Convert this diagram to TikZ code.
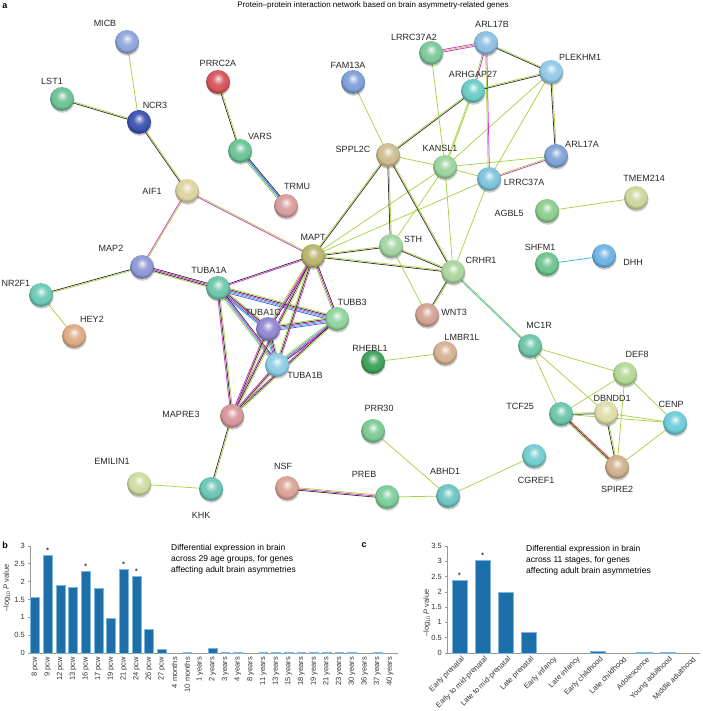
\documentclass[tikz,border=0pt]{standalone}
\usepackage{fontspec}
\setmainfont{Liberation Sans}
\usetikzlibrary{calc}
\pgfdeclarelayer{edgel}\pgfdeclarelayer{shadl}
\pgfsetlayers{edgel,shadl,main}
% edge colours
\definecolor{egreen}{HTML}{A8D246}
\definecolor{eblack}{HTML}{333333}
\definecolor{emag}{HTML}{D633D6}
\definecolor{ecyan}{HTML}{33B5E5}
\definecolor{eblue}{HTML}{4A5FD4}
\definecolor{ered}{HTML}{E8383D}
\definecolor{barc}{HTML}{1D6FA9}
\definecolor{barl}{HTML}{7FB5DC}
\definecolor{axc}{HTML}{999999}
% node colours
\definecolor{cMICB}{HTML}{8EA6DA}
\definecolor{cPRRC2A}{HTML}{D5555B}
\definecolor{cLST1}{HTML}{6DC194}
\definecolor{cNCR3}{HTML}{3C52B0}
\definecolor{cVARS}{HTML}{6CC396}
\definecolor{cAIF1}{HTML}{DCD3A2}
\definecolor{cTRMU}{HTML}{D89C9C}
\definecolor{cMAPT}{HTML}{B7B46A}
\definecolor{cFAM13A}{HTML}{7C9FD6}
\definecolor{cARL17B}{HTML}{8DBEE2}
\definecolor{cLRRC37A2}{HTML}{7BC897}
\definecolor{cPLEKHM1}{HTML}{93C8E8}
\definecolor{cARHGAP27}{HTML}{6CCBC5}
\definecolor{cSPPL2C}{HTML}{CDBC90}
\definecolor{cKANSL1}{HTML}{9BD39B}
\definecolor{cARL17A}{HTML}{7FA2D6}
\definecolor{cLRRC37A}{HTML}{7EC3DA}
\definecolor{cTMEM214}{HTML}{CDD69C}
\definecolor{cAGBL5}{HTML}{8BCD8C}
\definecolor{cSTH}{HTML}{A3D4A1}
\definecolor{cCRHR1}{HTML}{AAD49C}
\definecolor{cSHFM1}{HTML}{6CC48E}
\definecolor{cDHH}{HTML}{6EB2E2}
\definecolor{cWNT3}{HTML}{D2A294}
\definecolor{cMAP2}{HTML}{8F98D6}
\definecolor{cTUBA1A}{HTML}{6CC6AA}
\definecolor{cNR2F1}{HTML}{6DC9B6}
\definecolor{cTUBB3}{HTML}{8DD49C}
\definecolor{cTUBA1C}{HTML}{8E87CF}
\definecolor{cTUBA1B}{HTML}{8CCDE3}
\definecolor{cHEY2}{HTML}{DDAB82}
\definecolor{cRHEBL1}{HTML}{3DA157}
\definecolor{cLMBR1L}{HTML}{D4B292}
\definecolor{cMC1R}{HTML}{6DC5A6}
\definecolor{cMAPRE3}{HTML}{D6969C}
\definecolor{cPRR30}{HTML}{7CC992}
\definecolor{cDEF8}{HTML}{B3D896}
\definecolor{cTCF25}{HTML}{6CC5AA}
\definecolor{cDBNDD1}{HTML}{DEDDA8}
\definecolor{cCENP}{HTML}{6ECBD9}
\definecolor{cCGREF1}{HTML}{72CDCD}
\definecolor{cSPIRE2}{HTML}{CEB18E}
\definecolor{cEMILIN1}{HTML}{CCDCA0}
\definecolor{cKHK}{HTML}{6CC5B6}
\definecolor{cNSF}{HTML}{D9A396}
\definecolor{cPREB}{HTML}{7CCD9A}
\definecolor{cABHD1}{HTML}{6CC5C2}
\colorlet{ballc}{white}
\pgfdeclareradialshading[ballc]{sball}{\pgfqpoint{0bp}{8bp}}{%
 color(0bp)=(ballc!8!white); color(5bp)=(ballc!50!white); color(12bp)=(ballc!92!white);
 color(21bp)=(ballc); color(25bp)=(ballc!78!black); color(50bp)=(ballc!78!black)}
\newcommand\sedge[3]{%
  \gdef\ecnt{0}%
  \foreach \cc in {#3}{\pgfmathtruncatemacro\ectmp{\ecnt+1}\global\let\ecnt\ectmp}%
  \foreach \cc [count=\ci] in {#3}{%
    \pgfmathsetmacro\eoff{(\ci-(\ecnt+1)/2)*1.2}%
    \draw[\cc, edgeline] ($(#1.center)!\eoff pt!90:(#2.center)$) -- ($(#2.center)!\eoff pt!-90:(#1.center)$);%
  }%
}
\begin{document}
\begin{tikzpicture}[x=1pt,y=-1pt,
  pn/.style={circle, minimum size=24pt, inner sep=0pt, /utils/exec={\colorlet{ballc}{#1}}, shade, shading=sball},
  lbl/.style={font=\fontsize{9}{10}\selectfont, text=black!85, inner sep=0pt},
  edgeline/.style={line width=0.75pt},
  panel/.style={font=\fontsize{9}{10}\selectfont\bfseries, inner sep=0pt},
  ttl/.style={font=\fontsize{8}{9}\selectfont, inner sep=0pt},
  anno/.style={font=\fontsize{8.5}{11}\selectfont, inner sep=0pt, align=left, anchor=north west},
  tick/.style={font=\fontsize{7.5}{8}\selectfont, text=black!80, inner sep=0pt},
  axis/.style={draw=axc, line width=0.6pt},
  bar/.style={fill=barc, draw=barl, line width=0.5pt},
  starl/.style={font=\fontsize{8}{9}\selectfont, inner sep=0pt, anchor=south}]
\useasboundingbox (0,0) rectangle (702,711);

% ---------------- panel a ----------------
\node[panel] (pa) at (5,6) {a};
\node[ttl] (title) at (373,5) {Protein–protein interaction network based on brain asymmetry-related genes};

% nodes
\node[pn=cMICB] (MICB) at (127,42) {};
\node[pn=cPRRC2A] (PRRC2A) at (218,82) {};
\node[pn=cLST1] (LST1) at (62,99) {};
\node[pn=cNCR3] (NCR3) at (139,122) {};
\node[pn=cVARS] (VARS) at (240,151) {};
\node[pn=cAIF1] (AIF1) at (187,191) {};
\node[pn=cTRMU] (TRMU) at (286,206) {};
\node[pn=cMAPT] (MAPT) at (313,256) {};
\node[pn=cFAM13A] (FAM13A) at (353,82) {};
\node[pn=cARL17B] (ARL17B) at (486,43) {};
\node[pn=cLRRC37A2] (LRRC37A2) at (431,53) {};
\node[pn=cPLEKHM1] (PLEKHM1) at (551,72) {};
\node[pn=cARHGAP27] (ARHGAP27) at (473,91) {};
\node[pn=cSPPL2C] (SPPL2C) at (388,155) {};
\node[pn=cKANSL1] (KANSL1) at (445,167) {};
\node[pn=cARL17A] (ARL17A) at (556,156) {};
\node[pn=cLRRC37A] (LRRC37A) at (489,179) {};
\node[pn=cTMEM214] (TMEM214) at (636,198) {};
\node[pn=cAGBL5] (AGBL5) at (547,211) {};
\node[pn=cSTH] (STH) at (391,246) {};
\node[pn=cCRHR1] (CRHR1) at (453,272) {};
\node[pn=cSHFM1] (SHFM1) at (547,264) {};
\node[pn=cDHH] (DHH) at (604,256) {};
\node[pn=cWNT3] (WNT3) at (427,315) {};
\node[pn=cMAP2] (MAP2) at (142,267) {};
\node[pn=cTUBA1A] (TUBA1A) at (218,288) {};
\node[pn=cNR2F1] (NR2F1) at (41,295) {};
\node[pn=cTUBB3] (TUBB3) at (337,319) {};
\node[pn=cTUBA1C] (TUBA1C) at (268,329) {};
\node[pn=cTUBA1B] (TUBA1B) at (277,365) {};
\node[pn=cHEY2] (HEY2) at (74,336) {};
\node[pn=cRHEBL1] (RHEBL1) at (373,362) {};
\node[pn=cLMBR1L] (LMBR1L) at (445,353) {};
\node[pn=cMC1R] (MC1R) at (530,346) {};
\node[pn=cMAPRE3] (MAPRE3) at (232,416) {};
\node[pn=cPRR30] (PRR30) at (373,431) {};
\node[pn=cDEF8] (DEF8) at (625,374) {};
\node[pn=cTCF25] (TCF25) at (561,414) {};
\node[pn=cDBNDD1] (DBNDD1) at (606,413) {};
\node[pn=cCENP] (CENP) at (675,423) {};
\node[pn=cCGREF1] (CGREF1) at (534,456) {};
\node[pn=cSPIRE2] (SPIRE2) at (617,467) {};
\node[pn=cEMILIN1] (EMILIN1) at (139,484) {};
\node[pn=cKHK] (KHK) at (211,489) {};
\node[pn=cNSF] (NSF) at (287,488) {};
\node[pn=cPREB] (PREB) at (387,497) {};
\node[pn=cABHD1] (ABHD1) at (448,496) {};

% labels
\node[lbl] (lMICB) at (105,23) {MICB};
\node[lbl] (lPRRC2A) at (218,63) {PRRC2A};
\node[lbl] (lLST1) at (52,81) {LST1};
\node[lbl] (lNCR3) at (155,105) {NCR3};
\node[lbl] (lVARS) at (260,136) {VARS};
\node[lbl] (lAIF1) at (152,191) {AIF1};
\node[lbl] (lTRMU) at (297,186) {TRMU};
\node[lbl] (lMAPT) at (313,237) {MAPT};
\node[lbl] (lFAM13A) at (348,65) {FAM13A};
\node[lbl] (lARL17B) at (492,24) {ARL17B};
\node[lbl] (lLRRC37A2) at (414,37) {LRRC37A2};
\node[lbl] (lPLEKHM1) at (580,57) {PLEKHM1};
\node[lbl] (lARHGAP27) at (473,74) {ARHGAP27};
\node[lbl] (lSPPL2C) at (353,149) {SPPL2C};
\node[lbl] (lKANSL1) at (440,148) {KANSL1};
\node[lbl] (lARL17A) at (582,144) {ARL17A};
\node[lbl] (lLRRC37A) at (524,182) {LRRC37A};
\node[lbl] (lTMEM214) at (644,178) {TMEM214};
\node[lbl] (lAGBL5) at (509,213) {AGBL5};
\node[lbl] (lSTH) at (413,239) {STH};
\node[lbl] (lCRHR1) at (481,260) {CRHR1};
\node[lbl] (lSHFM1) at (540,247) {SHFM1};
\node[lbl] (lDHH) at (633,262) {DHH};
\node[lbl] (lWNT3) at (454,312) {WNT3};
\node[lbl] (lMAP2) at (111,248) {MAP2};
\node[lbl] (lTUBA1A) at (209,270) {TUBA1A};
\node[lbl] (lNR2F1) at (16,283) {NR2F1};
\node[lbl] (lHEY2) at (92,319) {HEY2};
\node[lbl] (lTUBB3) at (352,302) {TUBB3};
\node[lbl] (lTUBA1C) at (263,312) {TUBA1C};
\node[lbl] (lTUBA1B) at (305,375) {TUBA1B};
\node[lbl] (lRHEBL1) at (370,348) {RHEBL1};
\node[lbl] (lLMBR1L) at (462,337) {LMBR1L};
\node[lbl] (lMC1R) at (539,325) {MC1R};
\node[lbl] (lMAPRE3) at (181,414) {MAPRE3};
\node[lbl] (lPRR30) at (379,408) {PRR30};
\node[lbl] (lDEF8) at (637,354) {DEF8};
\node[lbl] (lTCF25) at (520,406) {TCF25};
\node[lbl] (lDBNDD1) at (612,398) {DBNDD1};
\node[lbl] (lCENP) at (671,404) {CENP};
\node[lbl] (lCGREF1) at (536,480) {CGREF1};
\node[lbl] (lSPIRE2) at (617,489) {SPIRE2};
\node[lbl] (lEMILIN1) at (112,461) {EMILIN1};
\node[lbl] (lKHK) at (201,515) {KHK};
\node[lbl] (lNSF) at (283,466) {NSF};
\node[lbl] (lPREB) at (364,474) {PREB};
\node[lbl] (lABHD1) at (445,471) {ABHD1};

% shadows
\begin{pgfonlayer}{shadl}
\foreach \n in {MICB,PRRC2A,LST1,NCR3,VARS,AIF1,TRMU,MAPT,FAM13A,ARL17B,LRRC37A2,PLEKHM1,ARHGAP27,SPPL2C,KANSL1,ARL17A,LRRC37A,TMEM214,AGBL5,STH,CRHR1,SHFM1,DHH,WNT3,MAP2,TUBA1A,NR2F1,TUBB3,TUBA1C,TUBA1B,HEY2,RHEBL1,LMBR1L,MC1R,MAPRE3,PRR30,DEF8,TCF25,DBNDD1,CENP,CGREF1,SPIRE2,EMILIN1,KHK,NSF,PREB,ABHD1}
  \fill[black, opacity=0.2] ([xshift=0.6pt,yshift=-1.8pt]\n.center) circle[radius=12pt];
\end{pgfonlayer}

% edges
\begin{pgfonlayer}{edgel}
\sedge{MICB}{NCR3}{egreen}
\sedge{LST1}{NCR3}{eblack,egreen}
\sedge{NCR3}{AIF1}{eblack,egreen}
\sedge{PRRC2A}{VARS}{eblack,egreen}
\sedge{VARS}{TRMU}{egreen,ecyan,eblue,eblack}
\sedge{AIF1}{MAP2}{emag,egreen}
\sedge{AIF1}{MAPT}{emag,egreen}
\sedge{MAP2}{NR2F1}{eblack,egreen}
\sedge{NR2F1}{HEY2}{egreen}
\sedge{MAP2}{TUBA1A}{egreen,eblack,emag,eblack}
\sedge{MAPT}{TUBA1A}{eblack,emag}
\sedge{TUBA1A}{TUBB3}{eblue,ecyan,emag,eblack,egreen}
\sedge{TUBA1A}{TUBA1C}{ecyan,eblue,emag,eblack,egreen}
\sedge{TUBA1A}{TUBA1B}{egreen,ecyan,emag,eblack}
\sedge{TUBA1A}{MAPRE3}{emag,eblack,egreen}
\sedge{TUBA1C}{TUBB3}{eblue,ecyan,emag,eblack,egreen}
\sedge{TUBA1C}{TUBA1B}{ecyan,eblue,emag,eblack,egreen}
\sedge{TUBA1C}{MAPT}{eblack,emag,egreen}
\sedge{TUBA1C}{MAPRE3}{emag,eblack,egreen}
\sedge{TUBB3}{TUBA1B}{egreen,ecyan,emag,eblack}
\sedge{TUBB3}{MAPT}{eblack,emag,egreen}
\sedge{TUBB3}{MAPRE3}{emag,eblack,egreen}
\sedge{TUBA1B}{MAPT}{emag,eblack,egreen}
\sedge{TUBA1B}{MAPRE3}{emag,eblack,egreen}
\sedge{MAPT}{MAPRE3}{emag,eblack,egreen}
\sedge{MAPRE3}{KHK}{eblack,egreen}
\sedge{EMILIN1}{KHK}{egreen}
\sedge{NSF}{PREB}{eblack,emag,egreen}
\sedge{PREB}{ABHD1}{egreen}
\sedge{PRR30}{ABHD1}{egreen}
\sedge{ABHD1}{CGREF1}{egreen}
\sedge{RHEBL1}{LMBR1L}{egreen}
\sedge{SHFM1}{DHH}{ecyan}
\sedge{AGBL5}{TMEM214}{egreen}
\sedge{MAPT}{SPPL2C}{eblack,egreen}
\sedge{MAPT}{KANSL1}{egreen}
\sedge{MAPT}{LRRC37A}{egreen}
\sedge{MAPT}{STH}{eblack,egreen}
\sedge{MAPT}{CRHR1}{eblack,egreen}
\sedge{SPPL2C}{FAM13A}{egreen}
\sedge{SPPL2C}{ARHGAP27}{eblack,egreen}
\sedge{SPPL2C}{KANSL1}{egreen}
\sedge{SPPL2C}{STH}{eblack,egreen}
\sedge{SPPL2C}{CRHR1}{eblack,egreen}
\sedge{STH}{CRHR1}{eblack,egreen}
\sedge{STH}{WNT3}{egreen}
\sedge{CRHR1}{WNT3}{eblack,egreen}
\sedge{CRHR1}{MC1R}{ecyan,egreen}
\sedge{KANSL1}{CRHR1}{egreen}
\sedge{KANSL1}{STH}{egreen}
\sedge{KANSL1}{LRRC37A}{egreen}
\sedge{KANSL1}{ARL17A}{egreen}
\sedge{KANSL1}{PLEKHM1}{egreen}
\sedge{KANSL1}{LRRC37A2}{egreen}
\sedge{KANSL1}{ARHGAP27}{egreen,egreen}
\sedge{LRRC37A}{CRHR1}{egreen}
\sedge{LRRC37A}{ARL17A}{emag,egreen}
\sedge{LRRC37A}{ARL17B}{emag,egreen}
\sedge{LRRC37A}{PLEKHM1}{egreen}
\sedge{ARHGAP27}{ARL17B}{emag,egreen}
\sedge{ARHGAP27}{PLEKHM1}{eblack,egreen}
\sedge{ARL17B}{LRRC37A2}{emag,egreen,emag}
\sedge{ARL17B}{PLEKHM1}{eblack,egreen}
\sedge{PLEKHM1}{ARL17A}{eblack,egreen}
\sedge{MC1R}{DEF8}{egreen}
\sedge{MC1R}{TCF25}{egreen}
\sedge{MC1R}{DBNDD1}{egreen}
\sedge{DEF8}{TCF25}{egreen}
\sedge{DEF8}{CENP}{egreen}
\sedge{DEF8}{SPIRE2}{egreen}
\sedge{TCF25}{DBNDD1}{eblack,egreen}
\sedge{TCF25}{CENP}{egreen}
\sedge{DBNDD1}{CENP}{egreen}
\sedge{TCF25}{SPIRE2}{egreen,eblack,ered}
\sedge{DBNDD1}{SPIRE2}{eblack,egreen}
\sedge{CENP}{SPIRE2}{egreen}
\end{pgfonlayer}

% ---------------- panel b ----------------
\node[panel] (pb) at (5,545) {b};
\draw[axis] (30,546) -- (30,653) -- (398,653);
\foreach \v [count=\i from 0] in {0,0.5,1,1.5,2,2.5,3}{
  \draw[axis] (28,{653-\i*0.5*35.7}) -- (30,{653-\i*0.5*35.7});
  \node[tick, anchor=east] (by\i) at (25,{653-\i*0.5*35.7}) {\v};
}
\foreach \v [count=\i from 0] in {1.57,2.75,1.9,1.85,2.3,1.82,0.97,2.35,2.15,0.67,0.11,0,0.02,0,0.12,0.03,0.03,0,0.02,0.02,0.02,0.03,0.02,0.02,0.02,0.03,0,0.03,0}{
  \ifdim\v pt>0pt
    \draw[bar] ({35+\i*12.68-4.4},653) rectangle ({35+\i*12.68+4.4},{653-\v*35.7});
  \fi
}
\foreach \i/\v in {1/2.75,4/2.3,7/2.35,8/2.15}
  \node[starl] (bs\i) at ({35+\i*12.68},{653-\v*35.7-1.5}) {*};
\foreach \t [count=\i from 0] in {8 pcw,9 pcw,12 pcw,13 pcw,16 pcw,17 pcw,19 pcw,21 pcw,24 pcw,26 pcw,27 pcw,4 months,10 months,1 years,2 years,3 years,4 years,8 years,11 years,13 years,15 years,18 years,19 years,21 years,23 years,30 years,36 years,37 years,40 years}
  \node[tick, rotate=90, anchor=east] (bx\i) at ({35+\i*12.68},657) {\t};
\node[tick, rotate=90] (bylab) at (7,588) {–log\textsubscript{10} \textit{P} value};
\node[anno] (bnote) at (171,544) {Differential expression in brain\\across 29 age groups, for genes\\affecting adult brain asymmetries};

% ---------------- panel c ----------------
\node[panel] (pc) at (364,545) {c};
\draw[axis] (447,546) -- (447,653) -- (700,653);
\foreach \v [count=\i from 0] in {0,0.5,1,1.5,2,2.5,3,3.5}{
  \draw[axis] (445,{653-\i*0.5*30.6}) -- (447,{653-\i*0.5*30.6});
  \node[tick, anchor=east] (cy\i) at (442,{653-\i*0.5*30.6}) {\v};
}
\foreach \v [count=\i from 0] in {2.37,3.02,1.97,0.68,0,0,0.05,0,0.02,0.02,0}{
  \ifdim\v pt>0pt
    \draw[bar] ({459.5+\i*23.1-7.6},653) rectangle ({459.5+\i*23.1+7.6},{653-\v*30.6});
  \fi
}
\foreach \i/\v in {0/2.37,1/3.02}
  \node[starl] (cs\i) at ({459.5+\i*23.1},{653-\v*30.6-1.5}) {*};
\foreach \t [count=\i from 0] in {Early prenatal,Early to mid-prenatal,Late to mid-prenatal,Late prenatal,Early infancy,Late infancy,Early childhood,Late childhood,Adolescence,Young adulthood,Middle adulthood}
  \node[tick, rotate=45, anchor=east] (cx\i) at ({463.5+\i*23.1},658) {\t};
\node[tick, rotate=90] (cylab) at (427,613) {–log\textsubscript{10} \textit{P} value};
\node[anno] (cnote) at (526,545) {Differential expression in brain\\across 11 stages, for genes\\affecting adult brain asymmetries};
\end{tikzpicture}
\end{document}
